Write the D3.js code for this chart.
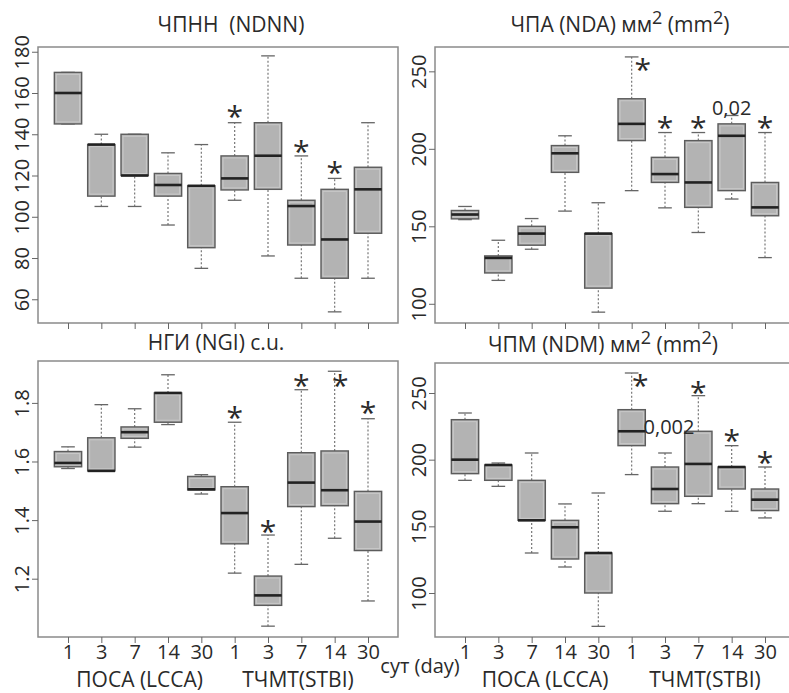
<!DOCTYPE html>
<html>
<head>
<meta charset="utf-8">
<script src="https://cdn.jsdelivr.net/npm/d3@7"></script>
<style>
  body { margin: 0; background: #fff; }
  text { font-family: "Open Sans", "Noto Sans", sans-serif; fill: #2a2a2a; }
</style>
</head>
<body>
<script>
// x positions: days after injury, two groups
const days = ['1', '3', '7', '14', '30', '1', '3', '7', '14', '30'];
const groups = ['ПОСА (LCCA)', 'ТЧМТ(STBI)'];

// five-number summaries [low whisker, q1, median, q3, high whisker]
const ndnnStats = [
  [145, 145, 160, 170, 170],
  [105, 110, 135, 135, 140],
  [105, 120, 120, 140, 140],
  [96, 110, 115.4, 121, 131],
  [75, 85, 115, 115, 135],
  [108, 113, 118.6, 129.5, 145.6],
  [81, 113.3, 129.6, 145.6, 178],
  [70.2, 86.3, 105.2, 108, 129.5],
  [53.9, 70.2, 89, 113.3, 118.6],
  [70.2, 92, 113.3, 124, 145.6]
];
const ndaStats = [
  [154.3, 154.8, 157.6, 160.2, 162.8],
  [115.1, 119.9, 129.6, 130.9, 141],
  [135.2, 137.8, 145.3, 150, 155],
  [159.8, 184.8, 197.1, 202.1, 208.4],
  [94.6, 110.1, 145.3, 145.3, 165.2],
  [173, 205.3, 216.1, 232.3, 259.3],
  [161.9, 178.3, 183.7, 194.5, 210.5],
  [146, 162.2, 178.3, 205.3, 210.5],
  [167.6, 173, 208.4, 216.1, 221.5],
  [129.8, 156.8, 162.2, 178.3, 210.5]
];
const ngiStats = [
  [1.576, 1.582, 1.595, 1.634, 1.650],
  [1.568, 1.568, 1.568, 1.681, 1.794],
  [1.649, 1.679, 1.700, 1.718, 1.780],
  [1.726, 1.734, 1.834, 1.834, 1.896],
  [1.489, 1.503, 1.505, 1.549, 1.555],
  [1.219, 1.319, 1.424, 1.514, 1.734],
  [1.038, 1.109, 1.143, 1.209, 1.349],
  [1.249, 1.446, 1.528, 1.630, 1.845],
  [1.338, 1.449, 1.502, 1.636, 1.908],
  [1.124, 1.296, 1.395, 1.498, 1.746]
];
const ndmStats = [
  [184.5, 189.5, 200, 230, 235],
  [180, 184.5, 196, 196, 197.5],
  [130, 154.5, 154.5, 184.5, 205],
  [119.5, 125.5, 149.3, 154.5, 166.8],
  [75, 100, 130, 130, 175],
  [188.8, 210.5, 221.3, 237.5, 265],
  [161.3, 167, 178, 194.5, 205],
  [167, 172.5, 196.8, 221.3, 248],
  [161.3, 178, 194.5, 194.5, 210.5],
  [156.3, 161.8, 170, 178, 194.5]
];

// significance marks: [box number, value, label, shift in box units]
const ndnnMarks = [[6, 151, '*', 0], [8, 134, '*', 0], [9, 123.5, '*', 0]];
const ndaMarks = [[6, 254.3, '*', 0.33], [7, 216.6, '*', 0], [8, 216.6, '*', 0], [9, 226.5, '0,02', 0], [10, 216.6, '*', 0]];
const ngiMarks = [[6, 1.766, '*', 0], [7, 1.375, '*', 0], [8, 1.874, '*', 0], [9, 1.876, '*', 0.17], [10, 1.781, '*', 0]];
const ndmMarks = [[6, 258.75, '*', 0.26], [8, 253.75, '*', 0], [9, 217.5, '*', 0], [10, 201.25, '*', 0], [7, 224.5, '0,002', 0.12]];

const ndnnTicks = [60, 80, 100, 120, 140, 160, 180];
const ndaTicks = [100, 150, 200, 250];
const ngiTicks = [1.2, 1.4, 1.6, 1.8];
const ndmTicks = [100, 150, 200, 250];

const panels = [
  { title: [['ЧПНН\u00a0 (NDNN)']], tx: 231, ty: 32, stats: ndnnStats, marks: ndnnMarks, ticks: ndnnTicks,
    x0: 38, x1: 398, y0: 47, y1: 323, domain: [48.5, 182.3], labels: false },
  { title: [['ЧПА (NDA) мм'], ['2', 1], [' (mm'], ['2', 1], [')']], tx: 620, ty: 32, stats: ndaStats, marks: ndaMarks, ticks: ndaTicks,
    x0: 435, x1: 795, y0: 47, y1: 323, domain: [87.6, 265.7], labels: false },
  { title: [['НГИ (NGI) c.u.']], tx: 216, ty: 350, stats: ngiStats, marks: ngiMarks, ticks: ngiTicks,
    x0: 38, x1: 398, y0: 361, y1: 637, domain: [1.001, 1.943], labels: true, gpos: [3.15, 7.9] },
  { title: [['ЧПМ (NDM) мм'], ['2', 1], [' (mm'], ['2', 1], [')']], tx: 603, ty: 352, stats: ndmStats, marks: ndmMarks, ticks: ndmTicks,
    x0: 435, x1: 795, y0: 363, y1: 637, domain: [67, 272.5], labels: true, gpos: [3.4, 8.2] }
];

const svg = d3.select('body').append('svg')
  .attr('width', 789).attr('height', 693);
svg.append('rect').attr('width', 789).attr('height', 693).attr('fill', '#fff');

const drawPanel = function drawPanel(p) {
  const x = d3.scaleLinear().domain([0.1, 10.9]).range([p.x0, p.x1]);
  const y = d3.scaleLinear().domain(p.domain).range([p.y1, p.y0]);
  const g = svg.append('g');
  const bw = (x(1) - x(0)) * 0.82;

  // frame
  g.append('rect')
    .attr('x', p.x0).attr('y', p.y0)
    .attr('width', p.x1 - p.x0).attr('height', p.y1 - p.y0)
    .attr('fill', 'none').attr('stroke', '#8a8a8a').attr('stroke-width', 1.5);

  // title
  const t = g.append('text')
    .attr('x', p.tx).attr('y', p.ty)
    .attr('text-anchor', 'middle')
    .style('font-size', '21px');
  p.title.forEach(function(part, i) {
    const s = t.append('tspan').text(part[0]);
    if (part[1]) s.attr('dy', -8).style('font-size', '18px');
    else if (i > 0) s.attr('dy', 8);
  });

  // y axis
  const yAxis = d3.axisLeft(y).tickValues(p.ticks).tickSize(6).tickFormat(d3.format('~g'));
  const ya = g.append('g').attr('transform', 'translate(' + p.x0 + ',0)').call(yAxis);
  ya.select('.domain').remove();
  ya.selectAll('line').attr('stroke', '#666');
  ya.selectAll('text')
    .attr('x', 0).attr('y', 0).attr('dy', 0)
    .attr('transform', 'translate(-9,0) rotate(-90)')
    .attr('text-anchor', 'middle')
    .style('font-size', '20px').style('font-family', '"Open Sans", sans-serif').attr('fill', '#333');

  // x axis
  const xAxis = d3.axisBottom(x).tickValues(d3.range(1, 11)).tickSize(6)
    .tickFormat(function(d) { return p.labels ? days[d - 1] : ''; });
  const xa = g.append('g').attr('transform', 'translate(0,' + p.y1 + ')').call(xAxis);
  xa.select('.domain').remove();
  xa.selectAll('line').attr('stroke', '#666');
  xa.selectAll('text').attr('dy', 0).attr('y', 659 - p.y1)
    .style('font-size', '20px').style('font-family', '"Open Sans", sans-serif').attr('fill', '#333');

  if (p.labels) {
    groups.forEach(function(name, i) {
      g.append('text').attr('x', x(p.gpos[i])).attr('y', 687)
        .attr('text-anchor', 'middle').style('font-size', '21px').text(name);
    });
  }

  // boxes
  const box = g.selectAll('.box').data(p.stats).enter().append('g').attr('class', 'box')
    .attr('transform', function(d, i) { return 'translate(' + x(i + 1) + ',0)'; });
  box.append('line').attr('y1', function(d) { return y(d[0]); }).attr('y2', function(d) { return y(d[1]); })
    .attr('stroke', '#777').attr('stroke-width', 1.2).attr('stroke-dasharray', '2,2');
  box.append('line').attr('y1', function(d) { return y(d[3]); }).attr('y2', function(d) { return y(d[4]); })
    .attr('stroke', '#777').attr('stroke-width', 1.2).attr('stroke-dasharray', '2,2');
  [0, 4].forEach(function(k) {
    box.append('line').attr('x1', -bw / 4).attr('x2', bw / 4)
      .attr('y1', function(d) { return y(d[k]); }).attr('y2', function(d) { return y(d[k]); })
      .attr('stroke', '#666').attr('stroke-width', 1.3);
  });
  box.append('rect').attr('x', -bw / 2).attr('width', bw)
    .attr('y', function(d) { return y(d[3]); })
    .attr('height', function(d) { return y(d[1]) - y(d[3]); })
    .attr('fill', '#b3b3b3').attr('stroke', '#5c5c5c').attr('stroke-width', 1.4);
  box.append('rect').attr('x', -bw / 2 + 2).attr('width', bw - 4)
    .attr('y', function(d) { return y(d[3]) + 2; })
    .attr('height', function(d) { return Math.max(0, y(d[1]) - y(d[3]) - 4); })
    .attr('fill', 'none').attr('stroke', '#c9c9c9').attr('stroke-width', 1);
  box.append('line').attr('x1', -bw / 2).attr('x2', bw / 2)
    .attr('y1', function(d) { return y(d[2]); }).attr('y2', function(d) { return y(d[2]); })
    .attr('stroke', '#222').attr('stroke-width', 2.6);

  // significance marks
  p.marks.forEach(function(m) {
    const star = m[2] === '*';
    g.append('text')
      .attr('x', x(m[0] + m[3]))
      .attr('y', y(m[1]) + (star ? 15 : 7))
      .attr('text-anchor', 'middle')
      .style('font-size', star ? '30px' : '20px')
      .text(m[2]);
  });
};

panels.forEach(drawPanel);

svg.append('text').attr('x', 420).attr('y', 673).attr('text-anchor', 'middle')
  .style('font-size', '20px').text('сут (day)');
</script>
</body>
</html>
